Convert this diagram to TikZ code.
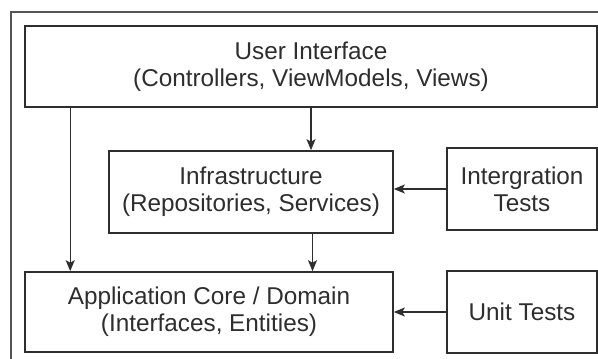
\documentclass[tikz,border=0pt]{standalone}
\usepackage{fontspec}
\setmainfont{Liberation Sans}
\usetikzlibrary{arrows.meta}
\definecolor{ink}{HTML}{2E2E2E}
\definecolor{framec}{HTML}{555555}
\tikzset{
  box/.style={draw=ink, line width=1.6pt, fill=white, align=center, text=ink,
    font=\fontsize{24.3}{27}\selectfont, inner sep=0pt},
  arr/.style={draw=ink, line width=1.3pt, -{Stealth[length=11pt,width=9pt,inset=2.5pt]}},
}
\begin{document}
\begin{tikzpicture}[x=1pt,y=-1pt]
\useasboundingbox (0,0) rectangle (598,359);
\clip (0,0) rectangle (598,359);
\fill[white] (0,0) rectangle (598,359);
\draw[framec, line width=1.5pt] (11,370) -- (11,12) -- (610,12);
\node[box, minimum width=572pt, minimum height=81pt] (ui) at (311,66.5) {User Interface\\(Controllers, ViewModels, Views)};
\node[box, minimum width=284pt, minimum height=82pt] (infra) at (251,192) {Infrastructure\\(Repositories, Services)};
\node[box, minimum width=150pt, minimum height=82pt] (it) at (522,189) {Intergration\\Tests};
\node[box, minimum width=368pt, minimum height=80pt] (app) at (209,312) {Application Core / Domain\\(Interfaces, Entities)};
\node[box, minimum width=150pt, minimum height=82pt] (ut) at (522,312) {Unit Tests};
\draw[arr] ([xshift=46pt]ui.south west) -- ([xshift=46pt]app.north west);
\draw[arr] (ui.south) -- (ui.south |- infra.north);
\draw[arr] ([xshift=1.5pt]ui.south |- infra.south) -- ([xshift=1.5pt]ui.south |- app.north);
\draw[arr] (it.west) -- (it.west -| infra.east);
\draw[arr] (ut.west) -- (ut.west -| app.east);
\end{tikzpicture}
\end{document}
